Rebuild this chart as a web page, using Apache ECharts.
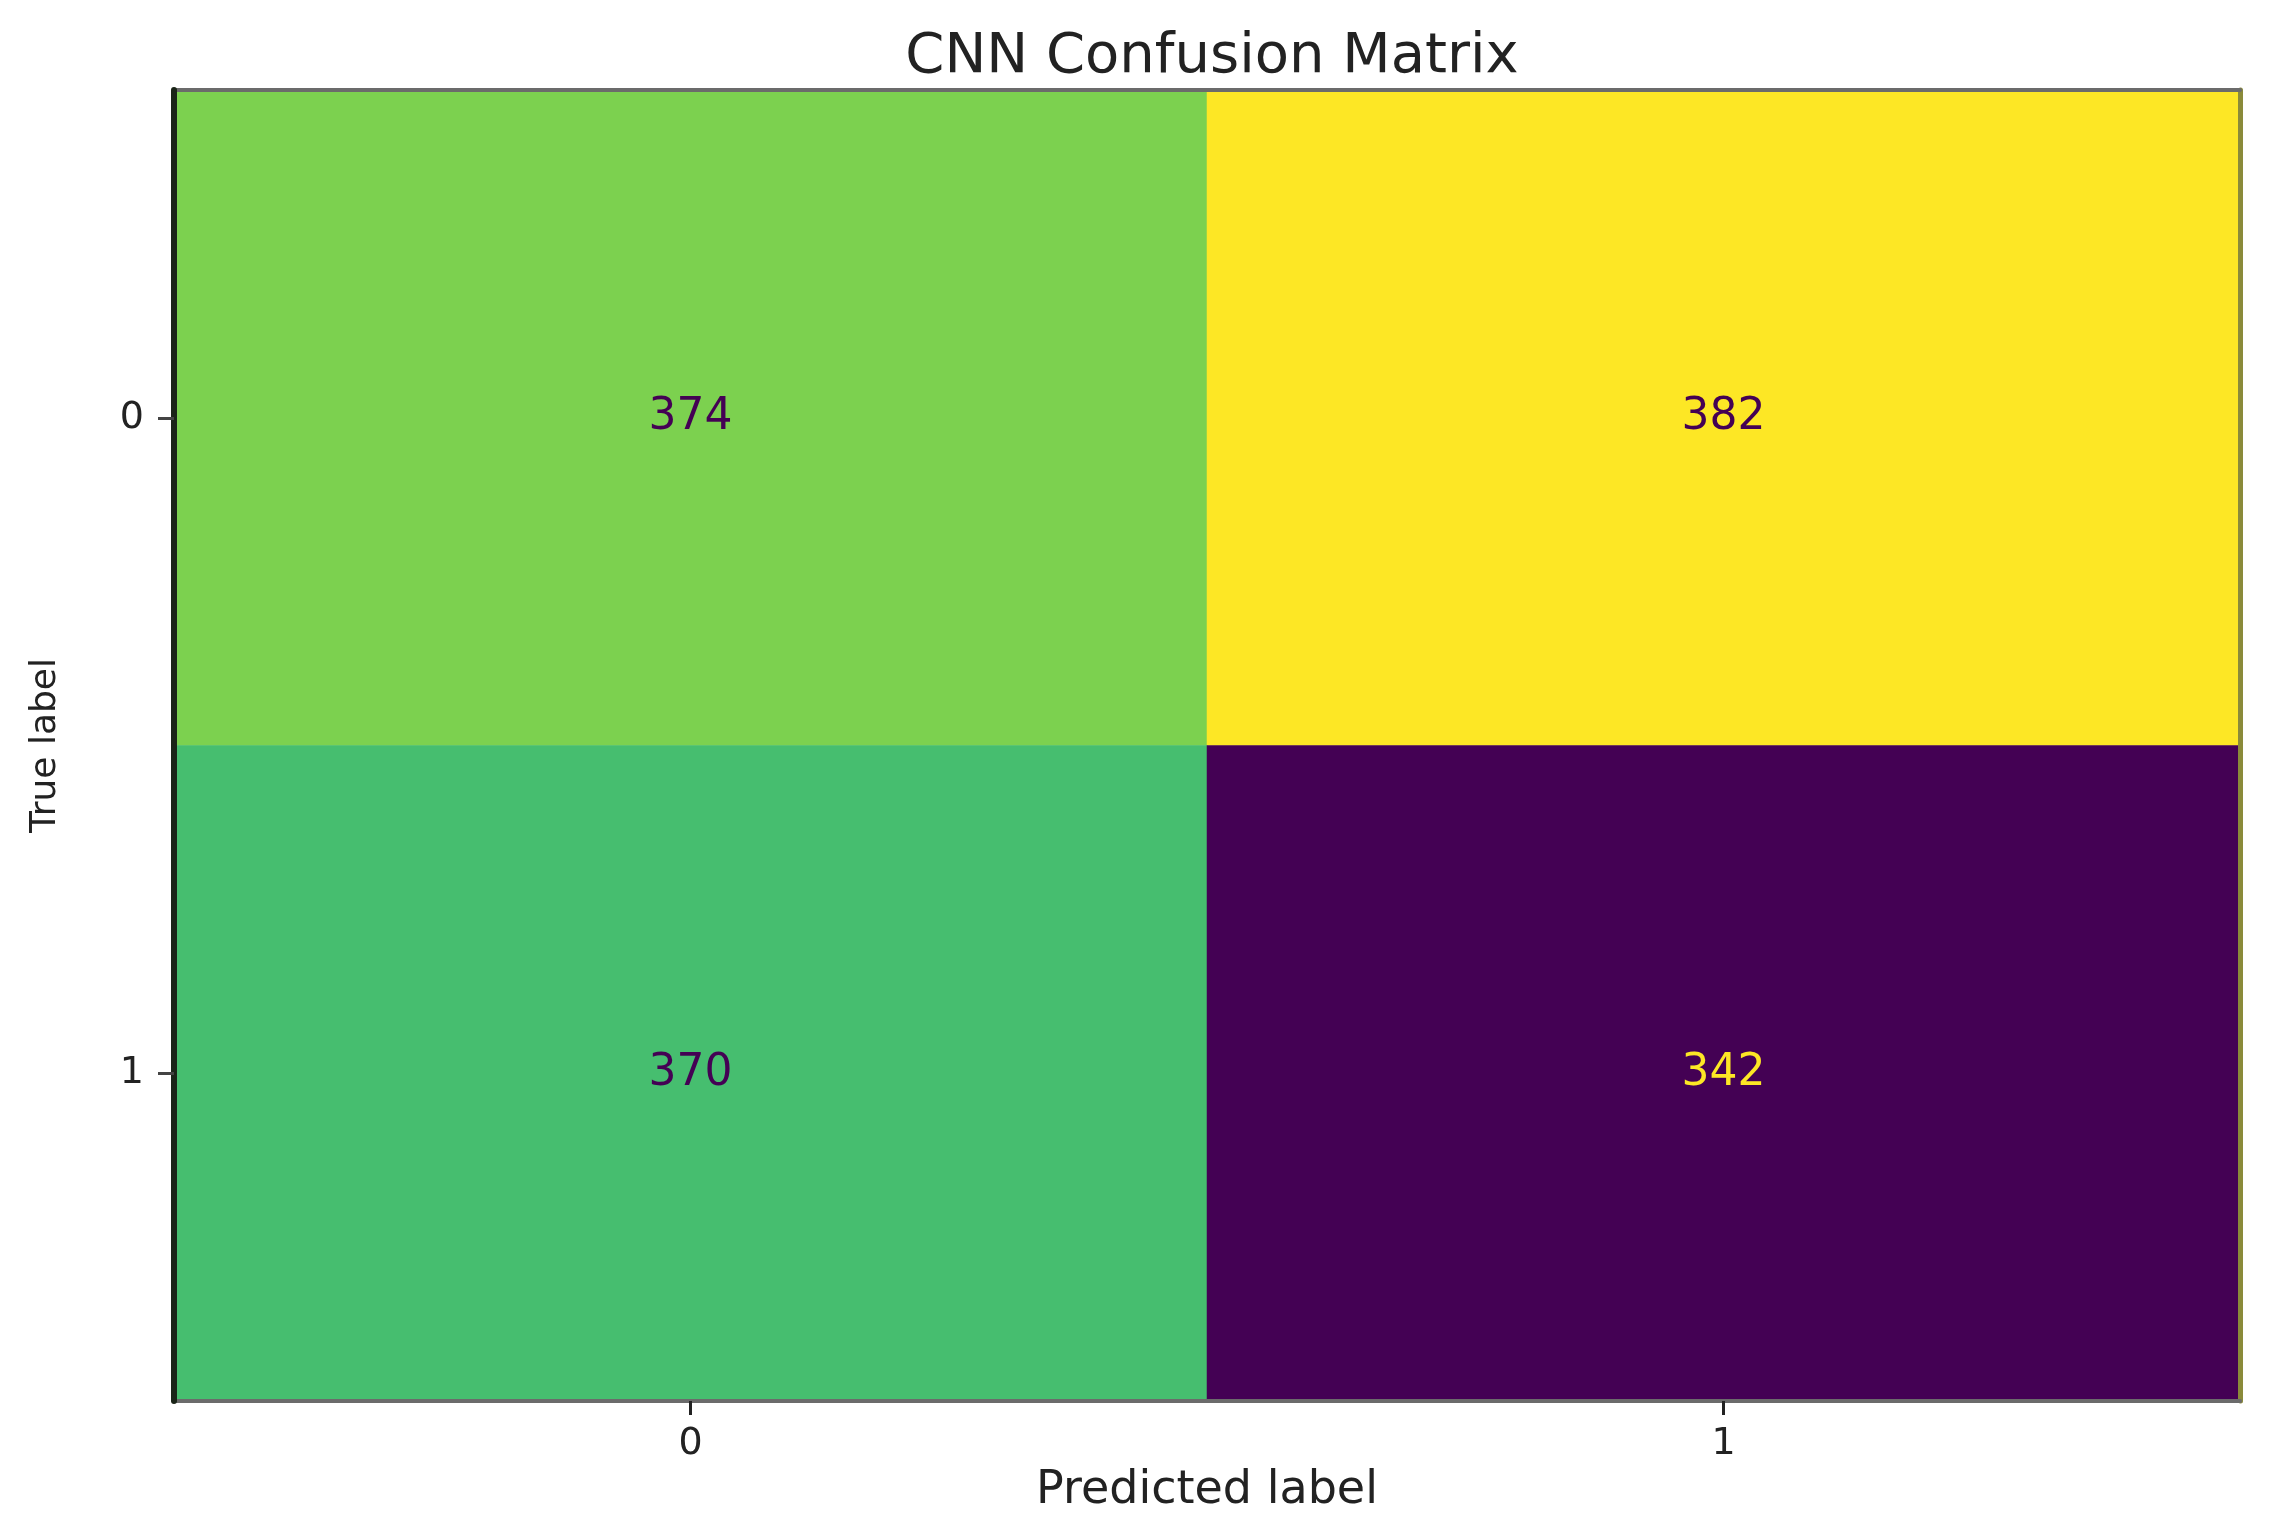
<!DOCTYPE html>
<html><head><meta charset="utf-8">
<script src="https://cdn.jsdelivr.net/npm/echarts@6/dist/echarts.min.js"></script>
<style>html,body{margin:0;padding:0;background:#fff}#c{width:2270px;height:1536px}</style>
</head><body><div id="c"></div>
<script>
const predictedLabels = ['0', '1'];
const trueLabels = ['0', '1'];
const row0 = [374, 382];
const row1 = [370, 342];
const matrix = [row0, row1];
const viridis = ['#440154','#482878','#3e4989','#31688e','#26828e','#1f9e89','#35b779','#6ece58','#b5de2b','#fde725'];

const vMin = Math.min(...matrix.flat());
const vMax = Math.max(...matrix.flat());
const mid = (vMin + vMax) / 2;
const data = [];
matrix.forEach((row, yi) => row.forEach((v, xi) => {
  data.push({ value: [xi, yi, v], label: { color: v < mid ? '#fde725' : '#440154' } });
}));

const frameAxis = { show: true, lineStyle: { color: '#6b6b6b', width: 4 } };
const chart = echarts.init(document.getElementById('c'));
chart.setOption({
  backgroundColor: '#ffffff',
  animation: false,
  title: {
    text: 'CNN Confusion Matrix', left: 1207, top: 24, textAlign: 'center',
    textStyle: { fontFamily: 'DejaVu Sans', fontSize: 56, fontWeight: 'normal', color: '#222' }
  },
  grid: { left: 174, right: 30, top: 90, bottom: 135, show: false },
  xAxis: [{
    type: 'category', data: predictedLabels, z: 10,
    name: 'Predicted label', nameLocation: 'middle', nameGap: 60,
    nameTextStyle: { fontFamily: 'DejaVu Sans', fontSize: 46, color: '#222' },
    axisLine: frameAxis,
    axisTick: { show: true, alignWithLabel: true, length: 14, lineStyle: { color: '#222', width: 3 } },
    axisLabel: { margin: 24, fontFamily: 'DejaVu Sans', fontSize: 38, color: '#222' },
    splitLine: { show: false }
  }, {
    type: 'category', data: predictedLabels, position: 'top', z: 10,
    axisLine: frameAxis, axisTick: { show: false }, axisLabel: { show: false }, splitLine: { show: false }
  }],
  yAxis: [{
    type: 'category', data: trueLabels, inverse: true, z: 11,
    name: 'True label', nameLocation: 'middle', nameGap: 110,
    nameTextStyle: { fontFamily: 'DejaVu Sans', fontSize: 36, color: '#222' },
    axisLine: { show: true, lineStyle: { color: '#1a2418', width: 6 } },
    axisTick: { show: true, alignWithLabel: true, length: 16, lineStyle: { color: '#444', width: 3 } },
    axisLabel: { margin: 30, fontFamily: 'DejaVu Sans', fontSize: 38, color: '#222' },
    splitLine: { show: false }
  }, {
    type: 'category', data: trueLabels, inverse: true, position: 'right', z: 10,
    axisLine: { show: true, lineStyle: { color: '#8a8a3a', width: 5 } }, axisTick: { show: false }, axisLabel: { show: false }, splitLine: { show: false }
  }],
  visualMap: {
    show: false, type: 'continuous', min: vMin, max: vMax, dimension: 2, seriesIndex: 0,
    inRange: { color: viridis }
  },
  series: [{
    type: 'heatmap', data: data, xAxisIndex: 0, yAxisIndex: 0, z: 1,
    label: { show: true, fontFamily: 'DejaVu Sans', fontSize: 44 },
    itemStyle: { borderWidth: 0 },
    emphasis: { disabled: true }
  }]
});
</script></body></html>
